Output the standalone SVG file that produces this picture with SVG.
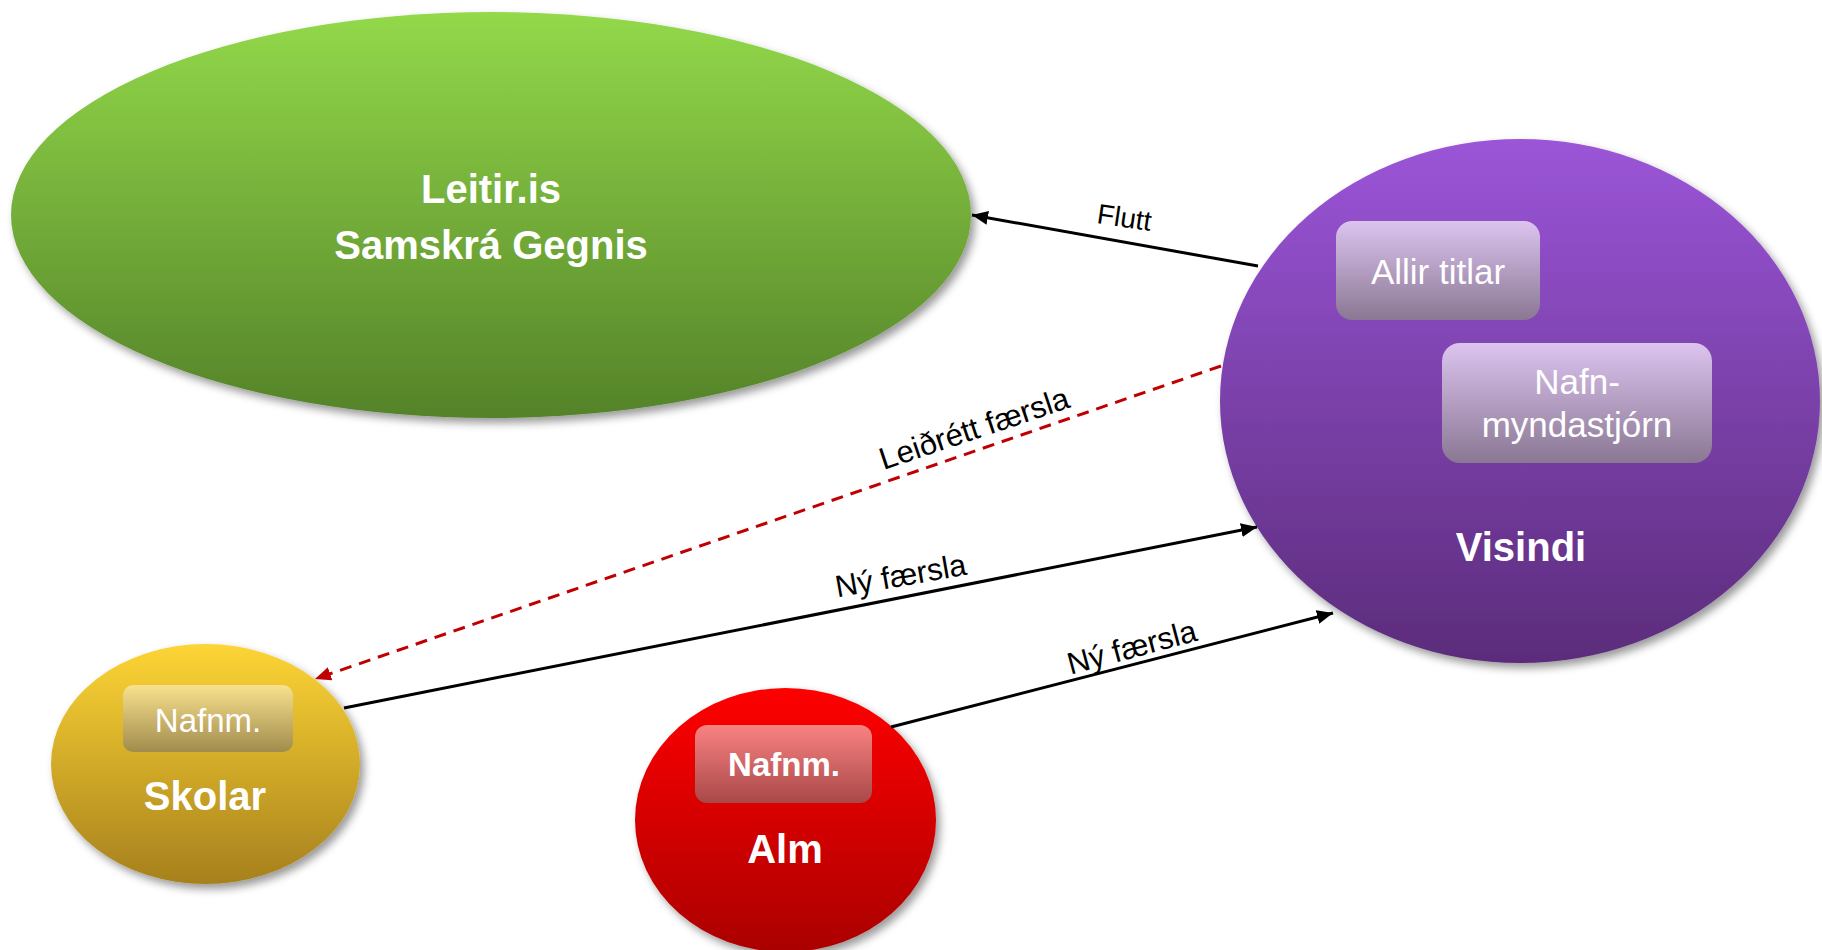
<svg xmlns="http://www.w3.org/2000/svg" width="1822" height="950" viewBox="0 0 1822 950">
<style>
.bold{font-family:"Liberation Sans",Arial,sans-serif;font-weight:bold;fill:#fff;text-anchor:middle}
.reg{font-family:"Liberation Sans",Arial,sans-serif;fill:#fff;text-anchor:middle}
.lbl{font-family:"Liberation Sans",Arial,sans-serif;fill:#000;font-size:31px;text-anchor:middle}
.edge{fill:none;stroke:#000;stroke-width:3}
.dash{fill:none;stroke:#c00000;stroke-width:3;stroke-dasharray:12 8}
</style>
<defs>
<linearGradient id="gGreen" x1="0" y1="0" x2="0" y2="1"><stop offset="0" stop-color="#93d94a"/><stop offset="1" stop-color="#548229"/></linearGradient>
<linearGradient id="gPurple" x1="0" y1="0" x2="0" y2="1"><stop offset="0" stop-color="#9b55d8"/><stop offset="1" stop-color="#5b2c7b"/></linearGradient>
<linearGradient id="gYellow" x1="0" y1="0" x2="0" y2="1"><stop offset="0" stop-color="#fdd535"/><stop offset="1" stop-color="#a6801d"/></linearGradient>
<linearGradient id="gRed" x1="0" y1="0" x2="0" y2="1"><stop offset="0" stop-color="#ff0000"/><stop offset="1" stop-color="#aa0000"/></linearGradient>
<linearGradient id="bPurple" x1="0" y1="0" x2="0" y2="1"><stop offset="0" stop-color="#dcc4ef"/><stop offset="1" stop-color="#8a7793"/></linearGradient>
<linearGradient id="bYellow" x1="0" y1="0" x2="0" y2="1"><stop offset="0" stop-color="#f8e18e"/><stop offset="1" stop-color="#a18c4d"/></linearGradient>
<linearGradient id="bRed" x1="0" y1="0" x2="0" y2="1"><stop offset="0" stop-color="#f98282"/><stop offset="1" stop-color="#a94848"/></linearGradient>
<filter id="sh" x="-10%" y="-10%" width="125%" height="125%"><feDropShadow dx="4" dy="5" stdDeviation="4" flood-color="#000" flood-opacity="0.4"/></filter>
<marker id="ah" markerUnits="userSpaceOnUse" markerWidth="18" markerHeight="14" refX="16" refY="7" orient="auto"><path d="M0,0 L16,7 L0,14 Z" fill="#000"/></marker>
<marker id="ahr" markerUnits="userSpaceOnUse" markerWidth="18" markerHeight="14" refX="16" refY="7" orient="auto"><path d="M0,0 L16,7 L0,14 Z" fill="#c00000"/></marker>
</defs>
<g id="leitir">
<ellipse cx="491" cy="215" rx="480" ry="203" fill="url(#gGreen)" filter="url(#sh)"/>
<text class="bold" x="491" y="203" font-size="40">Leitir.is</text>
<text class="bold" x="491" y="259" font-size="40">Samskrá Gegnis</text>
</g>
<g id="visindi">
<ellipse cx="1520" cy="401" rx="300" ry="262" fill="url(#gPurple)" filter="url(#sh)"/>
<rect x="1336" y="221" width="204" height="99" rx="16" fill="url(#bPurple)"/>
<text class="reg" x="1438" y="284" font-size="35">Allir titlar</text>
<rect x="1442" y="343" width="270" height="120" rx="18" fill="url(#bPurple)"/>
<text class="reg" x="1577" y="394" font-size="35">Nafn-</text>
<text class="reg" x="1577" y="437" font-size="35">myndastjórn</text>
<text class="bold" x="1521" y="561" font-size="40">Visindi</text>
</g>
<g id="skolar">
<ellipse cx="205.5" cy="764" rx="154.5" ry="120" fill="url(#gYellow)" filter="url(#sh)"/>
<rect x="123" y="685" width="170" height="67" rx="10" fill="url(#bYellow)"/>
<text class="reg" x="208" y="732" font-size="33">Nafnm.</text>
<text class="bold" x="205" y="810" font-size="40">Skolar</text>
</g>
<g id="alm">
<ellipse cx="785.5" cy="820" rx="150.5" ry="132" fill="url(#gRed)" filter="url(#sh)"/>
<rect x="695" y="725" width="177" height="78" rx="12" fill="url(#bRed)"/>
<text class="bold" x="784" y="776" font-size="33">Nafnm.</text>
<text class="bold" x="785" y="863" font-size="40">Alm</text>
</g>
<g id="connectors">
<line class="edge" x1="1258" y1="266" x2="972" y2="215" marker-end="url(#ah)"/>
<line class="dash" x1="1221" y1="366" x2="315" y2="679" marker-end="url(#ahr)"/>
<line class="edge" x1="344" y1="708" x2="1257" y2="527" marker-end="url(#ah)"/>
<line class="edge" x1="891" y1="727" x2="1333" y2="613" marker-end="url(#ah)"/>
<text class="lbl" style="font-size:28px" x="1123" y="227" transform="rotate(8.5 1123 227)">Flutt</text>
<text class="lbl" x="977.5" y="438.5" transform="rotate(-18.5 977.5 438.5)">Leiðrétt færsla</text>
<text class="lbl" x="902.5" y="586" transform="rotate(-10 902.5 586)">Ný færsla</text>
<text class="lbl" x="1134.5" y="657.5" transform="rotate(-15 1134.5 657.5)">Ný færsla</text>
</g>
</svg>
